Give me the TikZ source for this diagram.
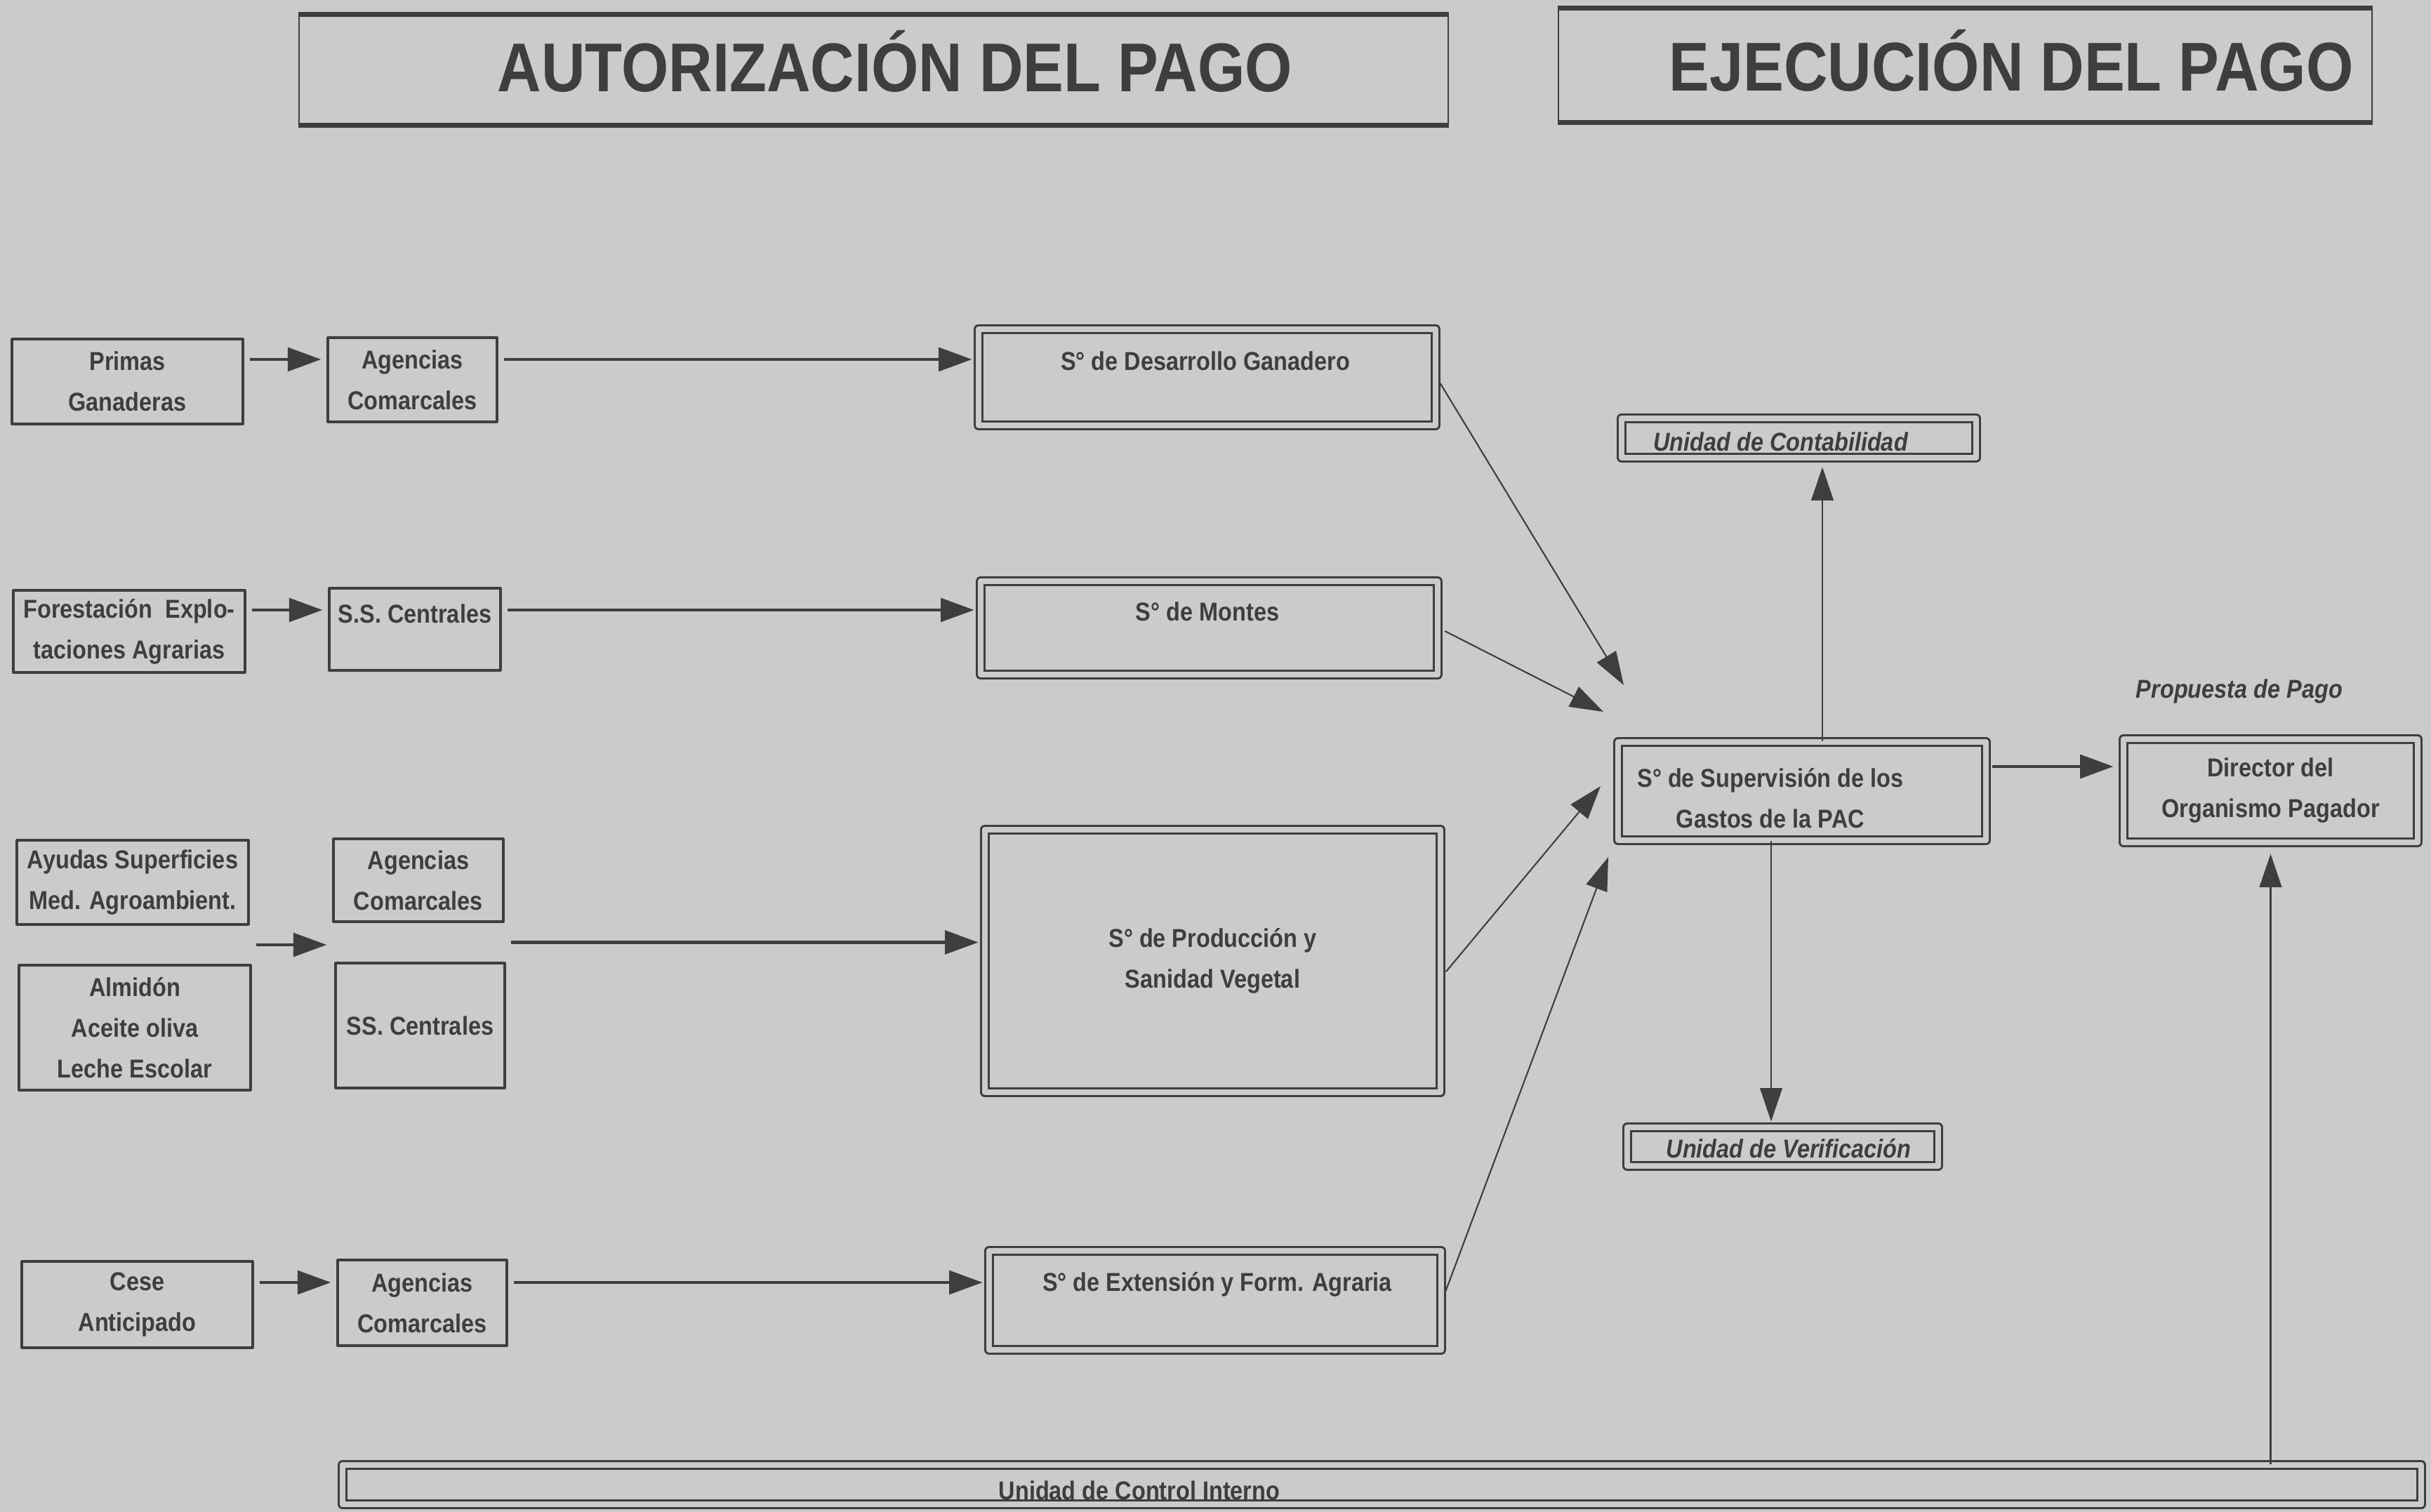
\documentclass[tikz,border=0pt]{standalone}
\usepackage{fontspec}
\setmainfont{Liberation Sans}[FakeStretch=0.88]
\usetikzlibrary{arrows.meta,calc}
\definecolor{paper}{RGB}{203,203,203}
\definecolor{ink}{RGB}{62,62,62}
\tikzset{
  box/.style={draw=ink,line width=0.9pt,inner sep=0pt,align=center,text=ink,
    font=\fontsize{10.5}{16.5}\selectfont\bfseries},
  dbox/.style={box,double=paper,double distance=2.4pt,line width=0.8pt},
  head/.style={draw=ink,line width=0.6pt},
  htxt/.style={inner sep=0pt,text=ink,font=\fontsize{28}{30}\selectfont\bfseries},
  lbl/.style={inner sep=0pt,align=center,text=ink,font=\fontsize{10.5}{16.5}\selectfont\bfseries},
  ilbl/.style={lbl,font=\fontsize{10.5}{16.5}\selectfont\bfseries\itshape},
  flow/.style={draw=ink,line width=1.3pt,-{Triangle[length=13.5pt,width=9.5pt]},
    shorten <=0.08cm,shorten >=0.08cm},
  link/.style={draw=ink,line width=0.6pt,-{Triangle[length=13.5pt,width=9pt]}}
}
\begin{document}
\begin{tikzpicture}[x=1cm,y=-1cm,line join=round]
\useasboundingbox[fill=paper] (0,0) rectangle (34.63,21.54);

% titles
\node[head,minimum width=16.37cm,minimum height=1.55cm] (tauth) at (12.445,0.995) {};
\node[htxt] (tautht) at (12.75,0.87) {AUTORIZACIÓN DEL PAGO};
\node[head,minimum width=11.59cm,minimum height=1.60cm] (texe) at (27.995,0.93) {};
\node[htxt] (texet) at (28.65,0.86) {EJECUCIÓN DEL PAGO};
\foreach \t in {tauth,texe}
{
\draw[ink,line width=2pt] (\t.north west)--(\t.north east) (\t.south west)--(\t.south east);
}

% left column
\node[box,minimum width=3.29cm,minimum height=1.21cm] (prim) at (1.815,5.435) {Primas\\Ganaderas};
\node[box,minimum width=2.41cm,minimum height=1.20cm] (agc1) at (5.875,5.41) {Agencias\\Comarcales};
\node[box,minimum width=3.30cm,minimum height=1.17cm] (fore) at (1.84,8.995) {Forestación\ \ Explo-\\taciones Agrarias};
\node[box,minimum width=2.44cm,minimum height=1.17cm] (ssc1) at (5.91,8.965) {};
\node[lbl] (ssc1t) at (5.91,8.74) {S.S. Centrales};
\node[box,minimum width=3.30cm,minimum height=1.20cm] (ayud) at (1.89,12.57) {Ayudas Superficies\\Med. Agroambient.};
\node[box,minimum width=2.42cm,minimum height=1.18cm] (agc2) at (5.96,12.54) {Agencias\\Comarcales};
\node[box,minimum width=3.30cm,minimum height=1.78cm] (almi) at (1.92,14.64) {Almidón\\Aceite oliva\\Leche Escolar};
\node[box,minimum width=2.41cm,minimum height=1.78cm] (ssc2) at (5.985,14.61) {SS. Centrales};
\node[box,minimum width=3.29cm,minimum height=1.23cm] (cese) at (1.955,18.585) {Cese\\Anticipado};
\node[box,minimum width=2.41cm,minimum height=1.22cm] (agc3) at (6.015,18.56) {Agencias\\Comarcales};

% servicios
\node[dbox,minimum width=6.51cm,minimum height=1.37cm] (desa) at (17.195,5.375) {};
\node[lbl] (desat) at (17.17,5.14) {S° de Desarrollo Ganadero};
\node[dbox,minimum width=6.51cm,minimum height=1.33cm] (mont) at (17.225,8.945) {};
\node[lbl] (montt) at (17.20,8.71) {S° de Montes};
\node[dbox,minimum width=6.49cm,minimum height=3.74cm] (prod) at (17.275,13.69) {S° de Producción y\\Sanidad Vegetal};
\node[dbox,minimum width=6.44cm,minimum height=1.41cm] (exte) at (17.31,18.525) {};
\node[lbl] (extet) at (17.34,18.30) {S° de Extensión y Form. Agraria};

% ejecucion
\node[dbox,minimum width=5.05cm,minimum height=0.56cm] (cont) at (25.625,6.24) {};
\node[ilbl] (contt) at (25.365,6.29) {Unidad de Contabilidad};
\node[dbox,minimum width=5.24cm,minimum height=1.40cm] (supv) at (25.67,11.27) {};
\node[lbl] (supvt) at (25.22,11.37) {S° de Supervisión de los\\Gastos de la PAC};
\node[dbox,minimum width=4.43cm,minimum height=0.55cm] (veri) at (25.395,16.335) {};
\node[ilbl] (verit) at (25.48,16.36) {Unidad de Verificación};
\node[dbox,minimum width=4.19cm,minimum height=1.47cm] (dire) at (32.345,11.265) {Director del\\Organismo Pagador};
\node[ilbl] (prop) at (31.90,9.85) {Propuesta de Pago};
\node[dbox,minimum width=29.61cm,minimum height=0.56cm] (ctrl) at (19.685,21.15) {};
\node[lbl] (ctrlt) at (16.23,21.23) {Unidad de Control Interno};

% rows of arrows
\coordinate (r1) at (0,5.12);
\coordinate (r2) at (0,8.69);
\coordinate (r4) at (0,18.27);
\coordinate (g1) at ($(ayud.south east)!0.5!(almi.north east)$);
\coordinate (g2) at ($(agc2.south east)!0.5!(ssc2.north east)$);
\draw[flow] (prim.east |- r1)--(agc1.west |- r1);
\draw[flow] (agc1.east |- r1)--(desa.west |- r1);
\draw[flow] (fore.east |- r2)--(ssc1.west |- r2);
\draw[flow] (ssc1.east |- r2)--(mont.west |- r2);
\draw[flow] (g1)--(g1 -| agc2.west);
\draw[flow] (g2)--(g2 -| prod.west);
\draw[flow] (cese.east |- r4)--(agc3.west |- r4);
\draw[flow] (agc3.east |- r4)--(exte.west |- r4);

% into supervision
\coordinate (inA) at (23.13,9.76);
\coordinate (inB) at (22.84,10.14);
\coordinate (inC) at (22.80,11.20);
\coordinate (inD) at (22.91,12.21);
\draw[link,shorten <=0.1cm] (desa.east)--(inA);
\draw[link,shorten <=0.1cm] (mont.east)--(inB);
\draw[link,shorten <=0.1cm] ([yshift=-0.23cm]prod.east)--(inC);
\draw[link,shorten <=0.1cm] (exte.east)--(inD);

% out of supervision
\coordinate (cC) at (25.96,0);
\coordinate (cV) at (25.23,0);
\coordinate (rP) at (0,10.92);
\draw[link,shorten >=0.12cm] (supv.north -| cC)--(cont.south -| cC);
\draw[link,shorten >=0.07cm] (supv.south -| cV)--(veri.north -| cV);
\draw[flow,shorten >=0.13cm] (supv.east |- rP)--(dire.west |- rP);
\draw[link,shorten >=0.15cm] (ctrl.north -| dire.south)--(dire.south);
\end{tikzpicture}
\end{document}
